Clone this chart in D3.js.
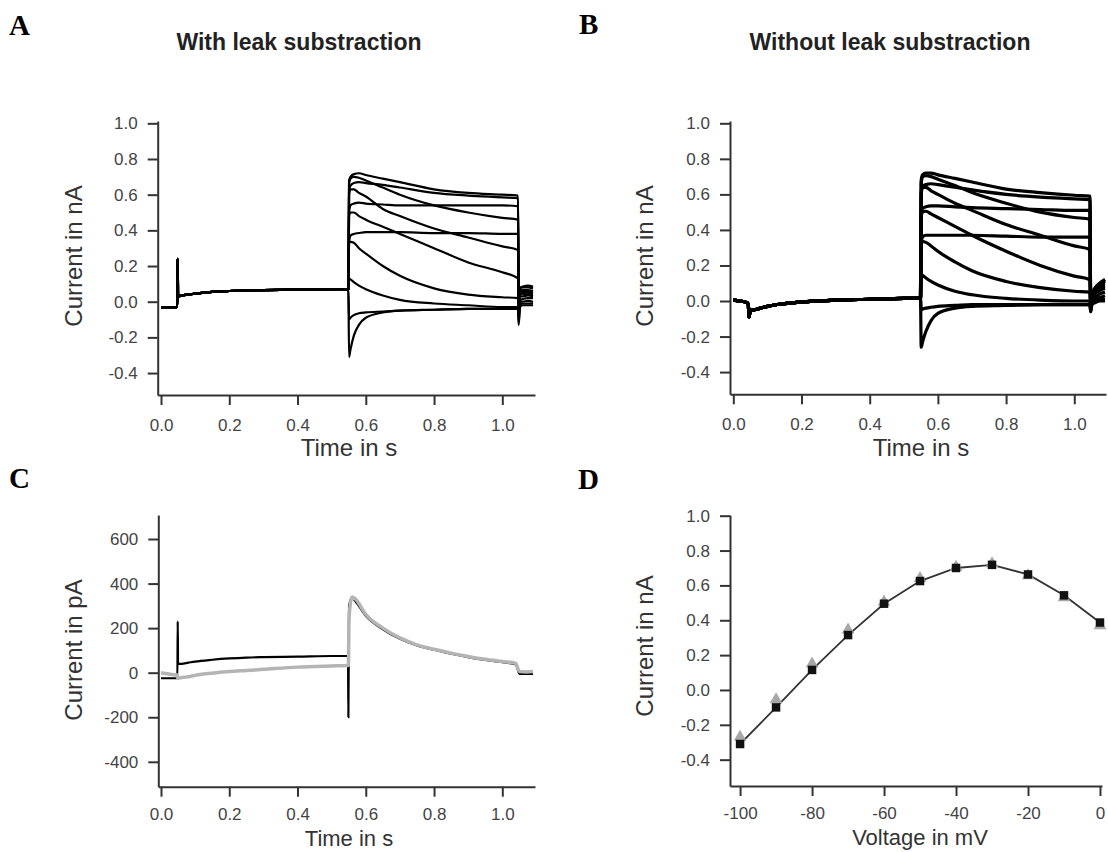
<!DOCTYPE html>
<html>
<head>
<meta charset="utf-8">
<script src="https://cdn.jsdelivr.net/npm/d3@7"></script>
<style>
  body { margin: 0; background: #fff; }
  svg { display: block; }
  text { font-family: "Liberation Sans", Arial, sans-serif; }
</style>
</head>
<body>
<svg id="fig" width="1108" height="852"></svg>
<script>
// ---- data ----
const voltages = [-100, -90, -80, -70, -60, -50, -40, -30, -20, -10, 0];

// holding part of the protocol (A: leak subtracted), s / nA
const baseTimesA = [0, 0.047, 0.048, 0.049, 0.05, 0.06, 0.08, 0.1, 0.15, 0.2, 0.3, 0.4, 0.5, 0.549];
const baseValsA = [-0.03, -0.03, 0.03, 0.24, 0.03, 0.035, 0.04, 0.045, 0.055, 0.06, 0.065, 0.068, 0.07, 0.07];

// holding part (B: no leak subtraction)
const baseTimesB = [0, 0.02, 0.04, 0.044, 0.046, 0.05, 0.06, 0.08, 0.1, 0.15, 0.2, 0.3, 0.4, 0.5, 0.549];
const baseValsB = [0.005, 0.0, -0.01, -0.02, -0.09, -0.05, -0.05, -0.04, -0.03, -0.015, -0.005, 0.005, 0.01, 0.015, 0.015];

// test pulse + tail sample times
const stepTimes = [0.551, 0.555, 0.565, 0.58, 0.6, 0.65, 0.7, 0.8, 0.9, 1.0, 1.046, 1.048, 1.052, 1.06, 1.075, 1.09];

// one row per voltage (same order as voltages)
const sweepsA = [
  [-0.31, -0.27, -0.19, -0.13, -0.09, -0.06, -0.05, -0.045, -0.04, -0.04, -0.04, -0.13, -0.03, -0.02, -0.02, -0.02],
  [-0.10, -0.09, -0.075, -0.065, -0.06, -0.055, -0.05, -0.045, -0.04, -0.04, -0.035, -0.11, -0.02, -0.01, -0.01, -0.01],
  [0.13, 0.125, 0.11, 0.09, 0.07, 0.035, 0.01, -0.01, -0.02, -0.03, -0.03, -0.09, 0.0, 0.0, 0.005, 0.0],
  [0.33, 0.335, 0.33, 0.30, 0.27, 0.20, 0.145, 0.075, 0.04, 0.025, 0.02, -0.07, 0.01, 0.015, 0.02, 0.02],
  [0.48, 0.50, 0.50, 0.48, 0.46, 0.42, 0.38, 0.30, 0.22, 0.165, 0.13, -0.05, 0.03, 0.03, 0.035, 0.03],
  [0.60, 0.63, 0.63, 0.61, 0.59, 0.52, 0.48, 0.41, 0.36, 0.31, 0.29, -0.04, 0.04, 0.045, 0.04, 0.04],
  [0.66, 0.69, 0.70, 0.695, 0.68, 0.64, 0.60, 0.54, 0.50, 0.47, 0.46, -0.03, 0.05, 0.055, 0.05, 0.05],
  [0.68, 0.70, 0.715, 0.72, 0.71, 0.69, 0.67, 0.63, 0.61, 0.60, 0.595, -0.02, 0.07, 0.08, 0.08, 0.075],
  [0.62, 0.65, 0.665, 0.67, 0.665, 0.655, 0.64, 0.61, 0.595, 0.585, 0.58, -0.01, 0.08, 0.085, 0.09, 0.085],
  [0.50, 0.54, 0.55, 0.555, 0.55, 0.545, 0.54, 0.54, 0.54, 0.54, 0.535, 0.0, 0.06, 0.065, 0.065, 0.06],
  [0.33, 0.37, 0.38, 0.385, 0.39, 0.39, 0.39, 0.385, 0.385, 0.38, 0.38, 0.0, 0.05, 0.055, 0.055, 0.05]
];

const sweepsB = [
  [-0.26, -0.23, -0.17, -0.11, -0.07, -0.04, -0.03, -0.025, -0.02, -0.02, -0.02, -0.06, -0.02, -0.01, 0.0, 0.0],
  [-0.05, -0.045, -0.04, -0.035, -0.03, -0.025, -0.02, -0.02, -0.02, -0.02, -0.02, -0.06, -0.01, 0.0, 0.01, 0.01],
  [0.15, 0.145, 0.13, 0.11, 0.09, 0.055, 0.035, 0.015, 0.005, 0.0, 0.0, -0.05, 0.0, 0.01, 0.02, 0.03],
  [0.32, 0.335, 0.33, 0.31, 0.28, 0.22, 0.17, 0.11, 0.075, 0.055, 0.05, -0.04, 0.01, 0.02, 0.04, 0.05],
  [0.48, 0.50, 0.505, 0.49, 0.47, 0.42, 0.37, 0.28, 0.20, 0.14, 0.12, -0.03, 0.02, 0.04, 0.06, 0.07],
  [0.60, 0.64, 0.64, 0.62, 0.60, 0.55, 0.51, 0.43, 0.37, 0.31, 0.29, -0.03, 0.03, 0.05, 0.08, 0.09],
  [0.66, 0.70, 0.705, 0.70, 0.685, 0.65, 0.61, 0.55, 0.50, 0.47, 0.46, -0.02, 0.03, 0.06, 0.09, 0.11],
  [0.68, 0.71, 0.72, 0.72, 0.71, 0.69, 0.67, 0.63, 0.61, 0.595, 0.59, -0.02, 0.04, 0.07, 0.10, 0.12],
  [0.61, 0.645, 0.655, 0.66, 0.655, 0.64, 0.625, 0.60, 0.585, 0.575, 0.57, -0.01, 0.04, 0.07, 0.10, 0.12],
  [0.49, 0.52, 0.53, 0.535, 0.535, 0.53, 0.525, 0.52, 0.515, 0.51, 0.51, 0.0, 0.04, 0.06, 0.09, 0.10],
  [0.33, 0.36, 0.37, 0.37, 0.37, 0.37, 0.37, 0.365, 0.36, 0.36, 0.36, 0.0, 0.03, 0.05, 0.07, 0.08]
];

// panel C, pA
const cTimes = [0, 0.02, 0.045, 0.048, 0.049, 0.05, 0.06, 0.08, 0.1, 0.15, 0.2, 0.25, 0.3, 0.4, 0.5, 0.548, 0.549, 0.551,
  0.56, 0.57, 0.6, 0.65, 0.7, 0.75, 0.8, 0.85, 0.9, 0.95, 1.0, 1.04, 1.045, 1.05, 1.07, 1.09];
const cBlack = [-25, -25, -25, -25, 230, 40, 40, 45, 50, 58, 64, 68, 70, 72, 75, 75, -200, 300,
  335, 320, 255, 195, 152, 122, 103, 85, 70, 57, 47, 37, 15, -5, -5, -5];
const cGray = [0, -5, -10, -10, -25, -25, -22, -18, -12, -2, 5, 10, 15, 25, 30, 32, 32, 250,
  340, 330, 262, 200, 156, 125, 105, 88, 73, 60, 50, 42, 20, 5, 3, 5];

// panel D, peak current vs voltage
const peakWithLeak = [-0.31, -0.10, 0.115, 0.315, 0.495, 0.625, 0.70, 0.718, 0.663, 0.543, 0.387];
const peakWithoutLeak = [-0.27, -0.055, 0.15, 0.345, 0.505, 0.64, 0.705, 0.725, 0.657, 0.53, 0.37];

const nATicks = [-0.4, -0.2, 0.0, 0.2, 0.4, 0.6, 0.8, 1.0];
const pATicks = [-400, -200, 0, 200, 400, 600];
const timeTicks = [0, 0.2, 0.4, 0.6, 0.8, 1.0];
const voltTicks = [-100, -80, -60, -40, -20, 0];

// ---- drawing ----
const svg = d3.select("#fig");
const fmt1 = d => d.toFixed(1);
const fmt0 = d => String(d);

function panel(cfg) {
  const x = d3.scaleLinear().domain(cfg.xDomain).range([cfg.left, cfg.right]);
  const y = d3.scaleLinear().domain(cfg.yDomain).range([cfg.bottom, cfg.top]);
  const g = svg.append("g");

  const ya = g.append("g")
    .attr("transform", `translate(${cfg.left},0)`)
    .call(d3.axisLeft(y).tickValues(cfg.yTicks).tickFormat(cfg.yFormat)
      .tickSize(10).tickSizeOuter(0).tickPadding(10));
  const xa = g.append("g")
    .attr("transform", `translate(0,${cfg.bottom})`)
    .call(d3.axisBottom(x).tickValues(cfg.xTicks).tickFormat(cfg.xFormat)
      .tickSize(10).tickSizeOuter(0).tickPadding(cfg.xPad));

  [ya, xa].forEach(a => {
    a.selectAll(".domain, .tick line").attr("stroke", "#333").attr("stroke-width", 2);
    a.selectAll("text")
      .attr("fill", "#444")
      .style("font-size", "17px")
      .style("font-family", '"Liberation Sans", Arial, sans-serif');
  });

  g.append("text")
    .attr("x", cfg.xTitleX).attr("y", cfg.xTitleY)
    .attr("text-anchor", "middle")
    .attr("fill", "#333")
    .style("font-size", cfg.titleSize || "24px")
    .text(cfg.xTitle);

  g.append("text")
    .attr("transform", `translate(${cfg.yTitleX},${cfg.yTitleY}) rotate(-90)`)
    .attr("text-anchor", "middle")
    .attr("fill", "#333")
    .style("font-size", "24px")
    .text(cfg.yTitle);

  return { g, x, y };
}

function traceLine(p) {
  return d3.line()
    .x(d => p.x(d[0]))
    .y(d => p.y(d[1]))
    .curve(d3.curveMonotoneX);
}

// A
const pA = panel({
  left: 157.7, right: 535, top: 121, bottom: 395,
  xDomain: [-0.0097, 1.0958], yDomain: [-0.523, 1.013],
  xTicks: timeTicks, yTicks: nATicks, xFormat: fmt1, yFormat: fmt1, xPad: 14,
  xTitle: "Time in s", xTitleX: 349, xTitleY: 456,
  yTitle: "Current in nA", yTitleX: 82, yTitleY: 256
});
const lineA = traceLine(pA);
const baseA = d3.zip(baseTimesA, baseValsA);
pA.g.append("g")
  .selectAll("path")
  .data(sweepsA)
  .join("path")
  .attr("d", s => lineA(baseA.concat(d3.zip(stepTimes, s))))
  .attr("fill", "none")
  .attr("stroke", "#000")
  .attr("stroke-width", 2.2)
  .attr("stroke-linejoin", "round");

// B
const pB = panel({
  left: 730, right: 1106, top: 121, bottom: 394.3,
  xDomain: [-0.0097, 1.093], yDomain: [-0.525, 1.013],
  xTicks: timeTicks, yTicks: nATicks, xFormat: fmt1, yFormat: fmt1, xPad: 14,
  xTitle: "Time in s", xTitleX: 921, xTitleY: 456,
  yTitle: "Current in nA", yTitleX: 653, yTitleY: 256
});
const lineB = traceLine(pB);
const baseB = d3.zip(baseTimesB, baseValsB);
pB.g.append("g")
  .selectAll("path")
  .data(sweepsB)
  .join("path")
  .attr("d", s => lineB(baseB.concat(d3.zip(stepTimes, s))))
  .attr("fill", "none")
  .attr("stroke", "#000")
  .attr("stroke-width", 3.2)
  .attr("stroke-linejoin", "round");

// C
const pC = panel({
  left: 158.3, right: 535, top: 515, bottom: 786.7,
  xDomain: [-0.0079, 1.0958], yDomain: [-511.7, 707.8],
  xTicks: timeTicks, yTicks: pATicks, xFormat: fmt1, yFormat: fmt0, xPad: 11,
  xTitle: "Time in s", xTitleX: 349, xTitleY: 846, titleSize: "22px",
  yTitle: "Current in pA", yTitleX: 82, yTitleY: 650
});
const lineC = traceLine(pC);
pC.g.append("path")
  .attr("d", lineC(d3.zip(cTimes, cBlack)))
  .attr("fill", "none").attr("stroke", "#000").attr("stroke-width", 2.2);
pC.g.append("path")
  .attr("d", lineC(d3.zip(cTimes, cGray)))
  .attr("fill", "none").attr("stroke", "#b4b4b4").attr("stroke-width", 3.5)
  .attr("stroke-linejoin", "round");

// D
const pD = panel({
  left: 730, right: 1102, top: 515, bottom: 786,
  xDomain: [-102.8, 0.56], yDomain: [-0.551, 1.004],
  xTicks: voltTicks, yTicks: nATicks, xFormat: fmt0, yFormat: fmt1, xPad: 11,
  xTitle: "Voltage in mV", xTitleX: 920, xTitleY: 845, titleSize: "22px",
  yTitle: "Current in nA", yTitleX: 653, yTitleY: 646
});
const ivWith = d3.zip(voltages, peakWithLeak);
const ivWithout = d3.zip(voltages, peakWithoutLeak);
pD.g.append("path")
  .attr("d", d3.line().x(d => pD.x(d[0])).y(d => pD.y(d[1]))(ivWith))
  .attr("fill", "none").attr("stroke", "#333").attr("stroke-width", 1.8);
pD.g.append("g")
  .selectAll("path")
  .data(ivWithout)
  .join("path")
  .attr("transform", d => `translate(${pD.x(d[0])},${pD.y(d[1])})`)
  .attr("d", d3.symbol().type(d3.symbolTriangle).size(70))
  .attr("fill", "#a8a8a8");
pD.g.append("g")
  .selectAll("path")
  .data(ivWith)
  .join("path")
  .attr("transform", d => `translate(${pD.x(d[0])},${pD.y(d[1])})`)
  .attr("d", d3.symbol().type(d3.symbolSquare).size(72))
  .attr("fill", "#111");

// titles and panel letters
svg.append("text")
  .attr("x", 299).attr("y", 50)
  .attr("text-anchor", "middle")
  .attr("fill", "#222")
  .style("font-size", "23px").style("font-weight", "bold")
  .text("With leak substraction");
svg.append("text")
  .attr("x", 890).attr("y", 50)
  .attr("text-anchor", "middle")
  .attr("fill", "#222")
  .style("font-size", "23px").style("font-weight", "bold")
  .text("Without leak substraction");

const letters = [["A", 9, 35], ["B", 579, 34], ["C", 9, 488], ["D", 578, 489]];
svg.append("g")
  .selectAll("text")
  .data(letters)
  .join("text")
  .attr("x", d => d[1]).attr("y", d => d[2])
  .style("font-family", '"Liberation Serif", "Times New Roman", serif')
  .style("font-weight", "bold")
  .style("font-size", "29px")
  .attr("fill", "#000")
  .text(d => d[0]);
</script>
</body>
</html>
